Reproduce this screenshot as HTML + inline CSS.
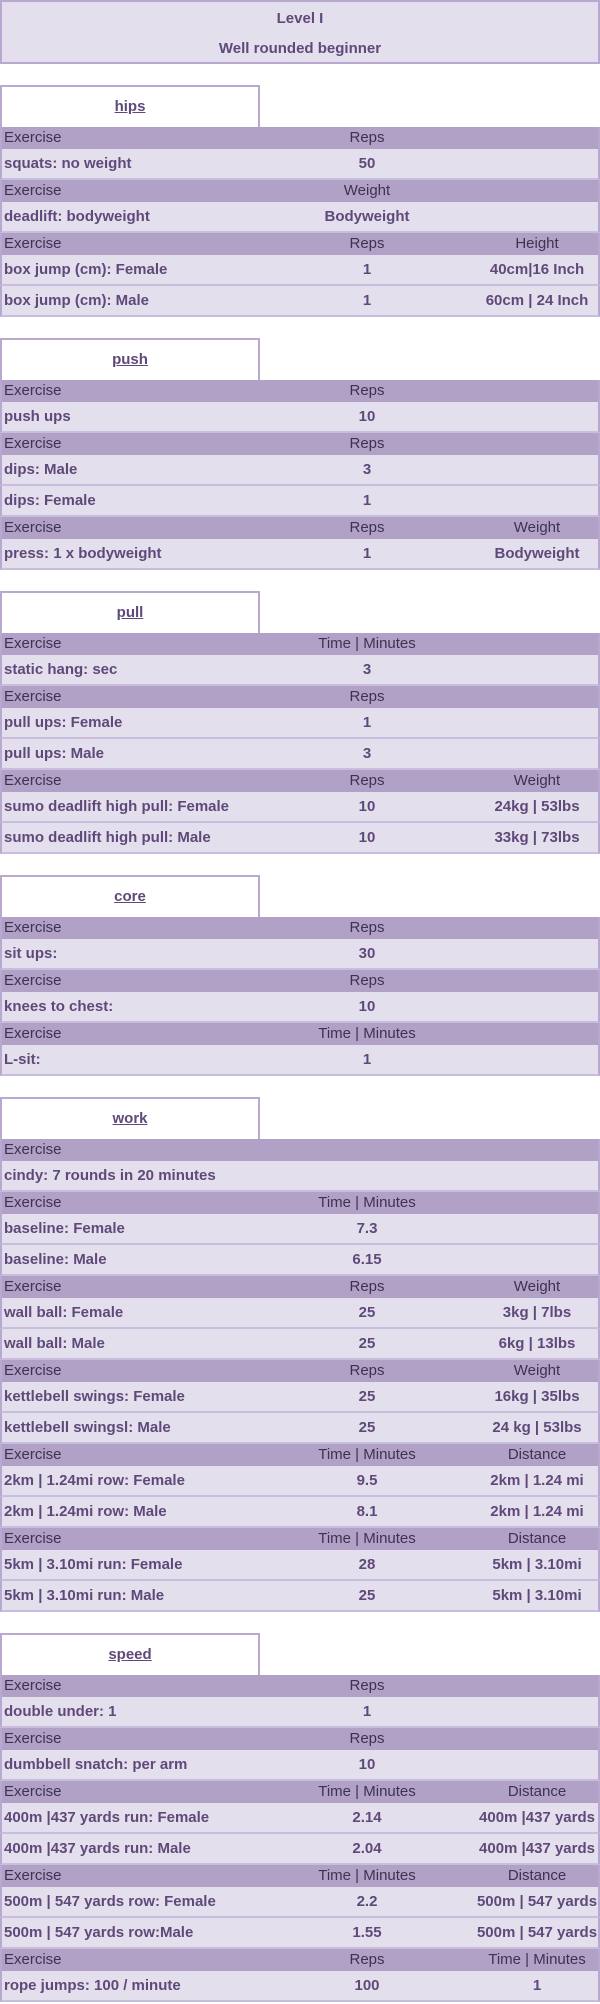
<!DOCTYPE html>
<html><head><meta charset="utf-8">
<style>
*{box-sizing:border-box;margin:0;padding:0}
body{width:600px;height:2004px;background:#fff;font-family:"Liberation Sans",Arial,sans-serif;overflow:hidden;position:relative}
.title{height:64px;background:#e4dfec;border:2px solid #b9a9d0;text-align:center;color:#5f497a;font-weight:bold;font-size:15px;line-height:30px;padding-top:2px}
.sec{margin-top:21px}
.tab{width:260px;height:42px;border:2px solid #b9a9d0;border-bottom:none;background:#fff;text-align:center;color:#5f497a;font-weight:bold;font-size:15px;text-decoration:underline;line-height:40px}
.row{position:relative;width:600px;border-left:2px solid #b9a9d0;border-right:2px solid #b9a9d0}
.h{height:22px;background:#b2a1c7;color:#3f3151;font-size:15px;line-height:22px}
.d{height:31px;background:#e4dfec;color:#5f497a;font-weight:bold;font-size:15px;line-height:30px;border-bottom:2px solid #c9bddd}
.c1{position:absolute;left:2px;top:0;white-space:nowrap}
.c2{position:absolute;left:255px;width:220px;text-align:center;top:0;white-space:nowrap}
.c3{position:absolute;left:470px;width:130px;text-align:center;top:0;white-space:nowrap}
</style></head>
<body>
<div class="title">Level I<br>Well rounded beginner</div>
<div id="root"></div>
<script>
const sectionNames=["hips","push","pull","core","work","speed"];
const hipsRows=[["h","Exercise","Reps",""],["d","squats: no weight","50",""],["h","Exercise","Weight",""],["d","deadlift: bodyweight","Bodyweight",""],["h","Exercise","Reps","Height"],["d","box jump (cm): Female","1","40cm|16 Inch"],["d","box jump (cm): Male","1","60cm | 24 Inch"]];
const pushRows=[["h","Exercise","Reps",""],["d","push ups","10",""],["h","Exercise","Reps",""],["d","dips: Male","3",""],["d","dips: Female","1",""],["h","Exercise","Reps","Weight"],["d","press: 1 x bodyweight","1","Bodyweight"]];
const pullRows=[["h","Exercise","Time | Minutes",""],["d","static hang: sec","3",""],["h","Exercise","Reps",""],["d","pull ups: Female","1",""],["d","pull ups: Male","3",""],["h","Exercise","Reps","Weight"],["d","sumo deadlift high pull: Female","10","24kg | 53lbs"],["d","sumo deadlift high pull: Male","10","33kg | 73lbs"]];
const coreRows=[["h","Exercise","Reps",""],["d","sit ups:","30",""],["h","Exercise","Reps",""],["d","knees to chest:","10",""],["h","Exercise","Time | Minutes",""],["d","L-sit:","1",""]];
const workRows=[["h","Exercise","",""],["d","cindy: 7 rounds in 20 minutes","",""],["h","Exercise","Time | Minutes",""],["d","baseline: Female","7.3",""],["d","baseline: Male","6.15",""],["h","Exercise","Reps","Weight"],["d","wall ball: Female","25","3kg | 7lbs"],["d","wall ball: Male","25","6kg | 13lbs"],["h","Exercise","Reps","Weight"],["d","kettlebell swings: Female","25","16kg | 35lbs"],["d","kettlebell swingsl: Male","25","24 kg | 53lbs"],["h","Exercise","Time | Minutes","Distance"],["d","2km | 1.24mi row: Female","9.5","2km | 1.24 mi"],["d","2km | 1.24mi row: Male","8.1","2km | 1.24 mi"],["h","Exercise","Time | Minutes","Distance"],["d","5km | 3.10mi run: Female","28","5km | 3.10mi"],["d","5km | 3.10mi run: Male","25","5km | 3.10mi"]];
const speedRows=[["h","Exercise","Reps",""],["d","double under: 1","1",""],["h","Exercise","Reps",""],["d","dumbbell snatch: per arm","10",""],["h","Exercise","Time | Minutes","Distance"],["d","400m |437 yards run: Female","2.14","400m |437 yards"],["d","400m |437 yards run: Male","2.04","400m |437 yards"],["h","Exercise","Time | Minutes","Distance"],["d","500m | 547 yards row: Female","2.2","500m | 547 yards"],["d","500m | 547 yards row:Male","1.55","500m | 547 yards"],["h","Exercise","Reps","Time | Minutes"],["d","rope jumps: 100 / minute","100","1"]];
const allRows=[hipsRows,pushRows,pullRows,coreRows,workRows,speedRows];
const root=document.getElementById('root');
sectionNames.forEach((name,i)=>{
  const sec=document.createElement('div');sec.className='sec';
  
  
  const tab=document.createElement('div');tab.className='tab';tab.textContent=name;
  
  
  sec.appendChild(tab);
  allRows[i].forEach(r=>{
    const row=document.createElement('div');row.className='row '+r[0];
    
    
    [r[1],r[2],r[3]].forEach((t,k)=>{
      if(!t)return;
      const c=document.createElement('span');c.className='c'+(k+1);c.textContent=t;
      
      
      row.appendChild(c);
    });
    sec.appendChild(row);
  });
  root.appendChild(sec);
});
</script>
</body></html>
